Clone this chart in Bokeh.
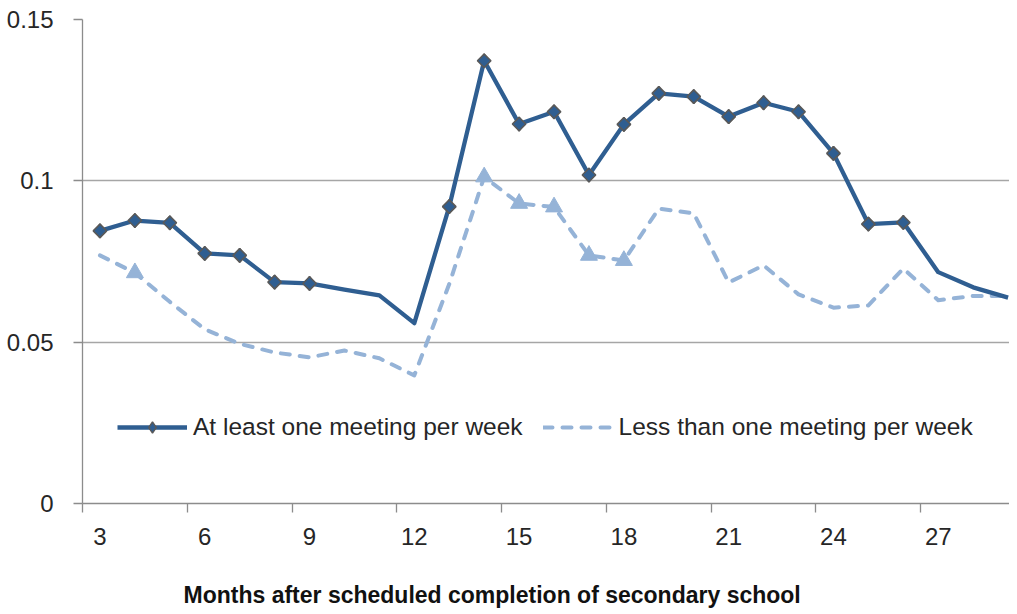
import math
from bokeh.plotting import figure
from bokeh.models import (Range1d, FixedTicker, CustomJSTickFormatter, Legend,
                          LegendItem, Title, ColumnDataSource)
from bokeh.embed import file_html
from bokeh.resources import INLINE

# ---------------- data ----------------
months = list(range(3, 30))
at_least_one = [0.0845, 0.0877, 0.0870, 0.0775, 0.0769, 0.0686, 0.0682, 0.0663,
                0.0645, 0.0559, 0.0920, 0.1372, 0.1176, 0.1214, 0.1018, 0.1175,
                0.1271, 0.1261, 0.1199, 0.1242, 0.1214, 0.1085, 0.0866, 0.0871,
                0.0717, 0.0670, 0.0638]
less_than_one = [0.0769, 0.0715, 0.0625, 0.0540, 0.0495, 0.0468, 0.0453, 0.0474,
                 0.0450, 0.0397, 0.0680, 0.1012, 0.0930, 0.0919, 0.0769, 0.0753,
                 0.0914, 0.0899, 0.0685, 0.0738, 0.0648, 0.0607, 0.0614, 0.0728,
                 0.0630, 0.0643, 0.0643]
dark_marker_months = [3, 4, 5, 6, 7, 8, 9, 13, 14, 15, 16, 17, 18, 19, 20, 21,
                      22, 23, 24, 25, 26]
light_marker_months = [4, 14, 15, 16, 17, 18]
x_tick_labels = [3, 6, 9, 12, 15, 18, 21, 24, 27]
y_ticks = [0, 0.05, 0.1, 0.15]
series_names = ["At least one meeting per week", "Less than one meeting per week"]
x_title = "Months after scheduled completion of secondary school"

# ---------------- style ----------------
DARK = "#2F5E91"
LIGHT = "#95B3D7"
MARKER_EDGE = "#595959"
GRID = "#A6A6A6"
AXIS = "#8C8C8C"
TEXT = "#262626"
FONT = "Liberation Sans"

p = figure(frame_width=927, frame_height=484,
           x_range=Range1d(2.5, 29.04), y_range=Range1d(0, 0.15),
           output_backend="svg", toolbar_location=None,
           min_border_left=82, min_border_top=19, min_border_right=0,
           min_border_bottom=0)
p.outline_line_color = None
p.background_fill_color = "white"
p.border_fill_color = "white"

# grid
p.xgrid.visible = False
p.ygrid.grid_line_color = GRID
p.ygrid.grid_line_width = 1.3

# y axis
p.yaxis.ticker = FixedTicker(ticks=y_ticks)
p.yaxis.formatter = CustomJSTickFormatter(
    code="return tick.toFixed(2).replace(/0+$/, '').replace(/\\.$/, '');")
p.yaxis.axis_line_color = AXIS
p.yaxis.axis_line_width = 1.3
p.yaxis.major_tick_line_color = AXIS
p.yaxis.major_tick_line_width = 1.3
p.yaxis.major_tick_out = 9
p.yaxis.major_tick_in = 0
p.yaxis.minor_tick_line_color = None
p.yaxis.major_label_standoff = 20
p.yaxis.major_label_text_font = FONT
p.yaxis.major_label_text_font_size = "24px"
p.yaxis.major_label_text_color = TEXT

# x axis: labels at category centres, tick marks at category boundaries
p.xaxis.ticker = FixedTicker(ticks=x_tick_labels,
                             minor_ticks=[t - 0.5 for t in x_tick_labels])
p.xaxis.axis_line_color = AXIS
p.xaxis.axis_line_width = 1.3
p.xaxis.major_tick_line_color = None
p.xaxis.major_tick_out = 9
p.xaxis.major_tick_in = 0
p.xaxis.minor_tick_line_color = AXIS
p.xaxis.minor_tick_line_width = 1.3
p.xaxis.minor_tick_out = 9
p.xaxis.minor_tick_in = 0
p.xaxis.major_label_standoff = 15
p.xaxis.major_label_text_font = FONT
p.xaxis.major_label_text_font_size = "24px"
p.xaxis.major_label_text_color = TEXT

# ---------------- glyphs ----------------
src = ColumnDataSource(dict(month=months, dark=at_least_one, light=less_than_one))
dark_pts_src = ColumnDataSource(dict(
    month=dark_marker_months,
    val=[at_least_one[months.index(m)] for m in dark_marker_months]))
light_pts_src = ColumnDataSource(dict(
    month=light_marker_months,
    val=[less_than_one[months.index(m)] for m in light_marker_months]))

light_line = p.line("month", "light", source=src, line_color=LIGHT, line_width=4,
                    line_dash="9 10", line_cap="round", line_join="round")
light_pts = p.scatter("month", "val", source=light_pts_src, marker="triangle",
                      size=17, fill_color=LIGHT, line_color=LIGHT, line_width=1)
dark_line = p.line("month", "dark", source=src, line_color=DARK, line_width=4.3,
                   line_join="round")
# diamond used for the legend symbol; fully covered by the rotated squares below
legend_marker = p.scatter("month", "val", source=dark_pts_src, marker="diamond",
                          size=14, fill_color=DARK, line_color=MARKER_EDGE,
                          line_width=1.4)
dark_pts = p.scatter("month", "val", source=dark_pts_src, marker="square",
                     size=9.5, angle=math.pi / 4, fill_color=DARK,
                     line_color=MARKER_EDGE, line_width=1.6)

legend = Legend(items=[LegendItem(label=series_names[0], renderers=[dark_line, legend_marker]),
                       LegendItem(label=series_names[1], renderers=[light_line])],
                orientation="horizontal", location=(35, 62),
                glyph_width=70, glyph_height=28, label_height=28,
                label_standoff=6, spacing=20, padding=0, margin=0,
                border_line_color=None, background_fill_alpha=0,
                label_text_font=FONT, label_text_font_size="24.5px",
                label_text_color=TEXT)
p.add_layout(legend)

title = Title(text=x_title, align="left", offset=101, text_font=FONT,
              text_font_size="23px", text_font_style="bold", text_color="#111111",
              standoff=65)
p.add_layout(title, "below")

open("out.html", "w").write(file_html(p, INLINE))
